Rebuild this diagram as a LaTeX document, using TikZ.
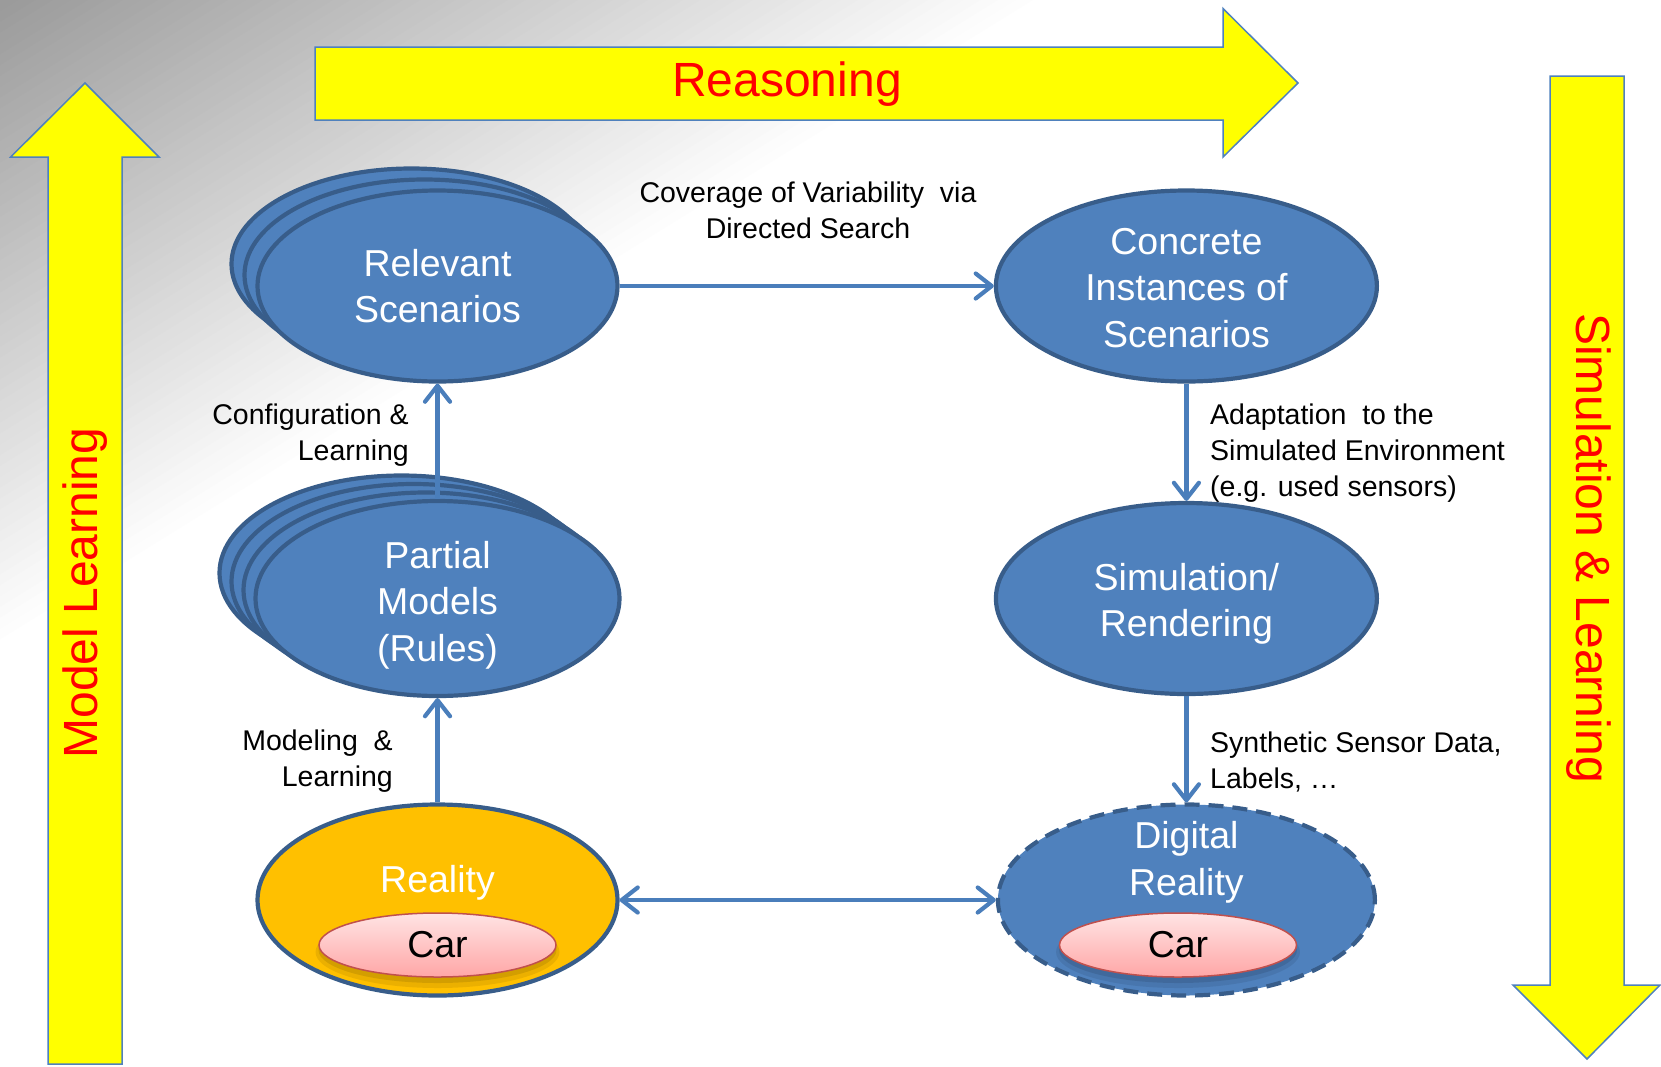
\documentclass[tikz,border=0pt]{standalone}
\usepackage{fontspec}
\setmainfont{Liberation Sans}
\usetikzlibrary{shapes.geometric,arrows.meta}

\definecolor{bluefill}{HTML}{4F81BD}
\definecolor{blueline}{HTML}{385D8A}
\definecolor{linkblue}{HTML}{4A7EBB}
\definecolor{realfill}{HTML}{FFC000}
\definecolor{carline}{HTML}{C0504D}
\definecolor{cartop}{HTML}{FFE4E4}
\definecolor{carbot}{HTML}{FFA6A6}
\definecolor{bandred}{HTML}{FF0000}
\definecolor{bandyellow}{HTML}{FFFF00}

\newcommand\fhuge{\fontsize{48}{56}\selectfont}
\newcommand\fbig{\fontsize{37.5}{46.5}\selectfont}
\newcommand\fsmall{\fontsize{28.5}{36}\selectfont}

\begin{document}
\begin{tikzpicture}[x=1pt,y=-1pt,
  band/.style={fill=bandyellow, draw=bluefill, line width=1.5pt, line join=miter},
  bandtext/.style={text=bandred, font=\fhuge, inner sep=0pt},
  blob/.style={ellipse, fill=bluefill, draw=blueline, line width=4.2pt,
    inner sep=0pt, text=white, align=center, font=\fbig},
  stack/.style={fill=bluefill, draw=blueline, line width=4.2pt},
  inner/.style={text=white, align=center, font=\fbig, inner sep=0pt},
  carbox/.style={ellipse, draw=carline, line width=1.5pt, top color=cartop,
    bottom color=carbot, minimum width=237pt, minimum height=64pt,
    inner sep=0pt, font=\fbig, text=black},
  lbl/.style={font=\fsmall, inner sep=0pt, text=black},
  link/.style={draw=linkblue, line width=4.2pt,
    -{Straight Barb[round,length=16pt,width=25pt]}},
  dlink/.style={draw=linkblue, line width=4.2pt,
    {Straight Barb[round,length=16pt,width=25pt]}-{Straight Barb[round,length=16pt,width=25pt]}}
]
\useasboundingbox (0,0) rectangle (1661,1066);

% soft grey corner in the top left
\foreach \i in {0,...,59}{
  \pgfmathsetmacro\t{1-\i/60}
  \pgfmathsetmacro\pct{40*\i/60}
  \fill[black!\pct] (0,0) -- (\t*1050,0) -- (0,\t*650) -- cycle;
}

% big yellow process arrows
\draw[band] (315,47) -- (1223,47) -- (1223,8.5) -- (1298,83) -- (1223,157)
  -- (1223,120) -- (315,120) -- cycle;
\draw[band] (48,1064) -- (48,157) -- (10.6,157) -- (85,83) -- (159,157)
  -- (122,157) -- (122,1064) -- cycle;
\draw[band] (1550,76) -- (1624,76) -- (1624,985) -- (1660,985) -- (1587,1059)
  -- (1513,985) -- (1550,985) -- cycle;
\node[bandtext] (reasontxt) at (787,84) {Reasoning};
\node[bandtext, rotate=90] (modeltxt) at (85,593) {Model Learning};
\node[bandtext, rotate=-90] (simtxt) at (1589,548) {Simulation \& Learning};

% stacked copies behind the left ellipses
\foreach \k in {2,1}
  \draw[stack] (437.5-13*\k, 286-11*\k) ellipse [x radius=180, y radius=95.5];
\foreach \k in {3,2,1}
  \draw[stack] (437.5-12*\k, 598.5-8.5*\k) ellipse [x radius=182, y radius=97.5];

% ellipses
\node[blob, minimum width=360pt, minimum height=191pt] (relevant) at (437.5,286)
  {Relevant\\Scenarios};
\node[blob, minimum width=364pt, minimum height=195pt,
  label={[inner, yshift=-6.5pt]center:{Partial\\Models\\(Rules)}}] (partial)
  at (437.5,598.5) {};
\node[blob, fill=realfill, minimum width=360pt, minimum height=191pt] (reality)
  at (437.5,900) {};
\node[blob, minimum width=381pt, minimum height=191pt,
  label={[inner, yshift=-2pt]center:{Concrete\\Instances of\\Scenarios}}] (concrete)
  at (1186.4,286) {};
\node[blob, minimum width=381pt, minimum height=191pt,
  label={[inner, yshift=-5.5pt]center:{Simulation/\\Rendering}}] (simulation)
  at (1186.4,598.5) {};
\node[blob, dash pattern=on 15pt off 9pt, minimum width=377pt, minimum height=191pt]
  (digital) at (1186.4,900) {};

\node[inner] (realitytxt) at (437.5,883) {Reality};
\node[inner] (digitaltxt) at (1186.4,862.5) {Digital\\Reality};

% cars with a soft shadow underneath
\foreach \cx in {437.5, 1178}{
  \fill[black, opacity=0.08] (\cx,952) ellipse [x radius=122, y radius=36];
  \fill[black, opacity=0.10] (\cx,950) ellipse [x radius=119, y radius=33];
}
\node[carbox] (carA) at (437.5,945) {Car};
\node[carbox] (carB) at (1178,945) {Car};

% connectors
\draw[link] (relevant) -- (concrete);
\draw[link] (concrete) -- (simulation);
\draw[link] (simulation) -- (digital);
\draw[dlink] (reality) -- (digital);
\draw[link] (reality) -- (partial);
\draw[link] (partial.north) -- (relevant.south);

% connector labels
\node[lbl, align=center] (covlbl) at (808,210.5)
  {Coverage of Variability\ \ via\\Directed Search};
\node[lbl, align=right, anchor=east] (conflbl) at (409,435)
  {Configuration \&\\Learning};
\node[lbl, align=right, anchor=east] (modlbl) at (393,761.5)
  {Modeling\ \ \&\\Learning};
\node[lbl, align=left, anchor=west] (adalbl) at (1210,453)
  {Adaptation\ \ to the\\Simulated Environment\\(e.g. used sensors)};
\node[lbl, align=left, anchor=west] (synlbl) at (1210,761.5)
  {Synthetic Sensor Data,\\Labels, …};
\end{tikzpicture}
\end{document}
